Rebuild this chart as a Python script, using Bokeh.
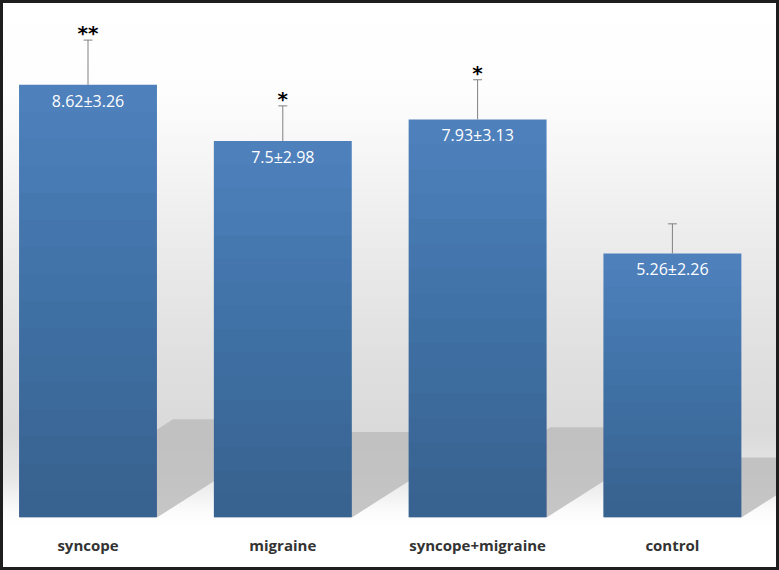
from bokeh.plotting import figure
from bokeh.models import ColumnDataSource, Whisker, TeeHead, FixedTicker, Range1d
from bokeh.core.properties import value
from bokeh.embed import file_html
from bokeh.resources import INLINE

# ---- data ----
categories = ["syncope", "migraine", "syncope+migraine", "control"]
means = [8.62, 7.5, 7.93, 5.26]
sds = [3.26, 2.98, 3.13, 2.26]
err_bars = [0.89, 0.70, 0.79, 0.59]
stars = ["**", "*", "*", ""]

xs = list(range(len(categories)))
labels = [f"{m}\u00b1{s}" for m, s in zip(means, sds)]
tops = [m + e for m, e in zip(means, err_bars)]

W, H = 773, 564          # element content size (3px border adds to 779x570)
CW, CH = 779, 570        # canvas size bokeh actually lays out
BW = 0.708
PX_PER_X = 194.8
X0 = 84.5
BASE = 514
p = figure(width=W, height=H, output_backend="svg", toolbar_location=None,
           x_range=Range1d(-X0 / PX_PER_X, (CW - X0) / PX_PER_X),
           y_range=Range1d(0, BASE / 50.2),
           min_border_left=0, min_border_right=0, min_border_top=0,
           min_border_bottom=CH - BASE)
p.background_fill_alpha = 0
p.border_fill_alpha = 0
p.outline_line_color = None
p.styles = {
    "box-sizing": "content-box",
    "border": "3px solid #1e1e1e",
    "background": "linear-gradient(to bottom, #ffffff 0%, #fdfdfd 16%, "
                  "#ededed 40%, #e0e0e0 62%, #dadada 76%, #e6e6e6 84%, "
                  "#fbfbfb 90%, #ffffff 93%, #ffffff 100%)",
}
p.grid.visible = False
p.yaxis.visible = False

# floor shadows behind bars (derived from the bar heights)
sh_xs, sh_ys = [], []
for x, m in zip(xs, means):
    h = 0.227 * m
    dx = 0.0918 * m
    sh_xs.append([x - BW / 2, x + BW / 2, x + BW / 2 + dx, x - BW / 2 + dx])
    sh_ys.append([0, 0, h, h])
p.patches(sh_xs, sh_ys, fill_color="#bcbcbc", fill_alpha=0.85, line_color=None)

src = ColumnDataSource(dict(x=xs, m=means, top=tops, lab=labels, st=stars))
p.vbar(x="x", top="m", bottom=0, width=BW, source=src,
       fill_color="#4e80bc", line_color=None)

# soft vertical shading of each bar (darker toward the base)
N = 16
for k in range(1, N):
    p.vbar(x=xs, top=[m * k / N for m in means], bottom=0, width=BW,
           fill_color="#000000", fill_alpha=0.014, line_color=None)

wh = Whisker(base="x", lower="m", upper="top", source=src, dimension="height",
             line_color="#808080", line_width=1,
             upper_head=TeeHead(size=9, line_color="#808080", line_width=1),
             lower_head=None)
p.add_layout(wh)

p.text(x="x", y="m", text="lab", source=src, y_offset=16,
       text_align="center", text_baseline="middle",
       text_color="white", text_font=value("Open Sans"),
       text_font_size="16px")
p.text(x="x", y="top", text="st", source=src, y_offset=-7,
       text_align="center", text_baseline="alphabetic",
       text_color="black", text_font=value("DejaVu Sans"),
       text_font_style="bold", text_font_size="20px")

ax = p.xaxis[0]
ax.ticker = FixedTicker(ticks=xs)
ax.major_label_overrides = {x: c for x, c in zip(xs, categories)}
ax.axis_line_color = None
ax.major_tick_line_color = None
ax.minor_tick_line_color = None
ax.major_tick_in = 0
ax.major_tick_out = 0
ax.major_label_standoff = 17
ax.major_label_text_font = "Open Sans"
ax.major_label_text_font_style = "bold"
ax.major_label_text_font_size = "15px"
ax.major_label_text_color = "#333333"

open("out.html", "w").write(file_html(p, INLINE))
